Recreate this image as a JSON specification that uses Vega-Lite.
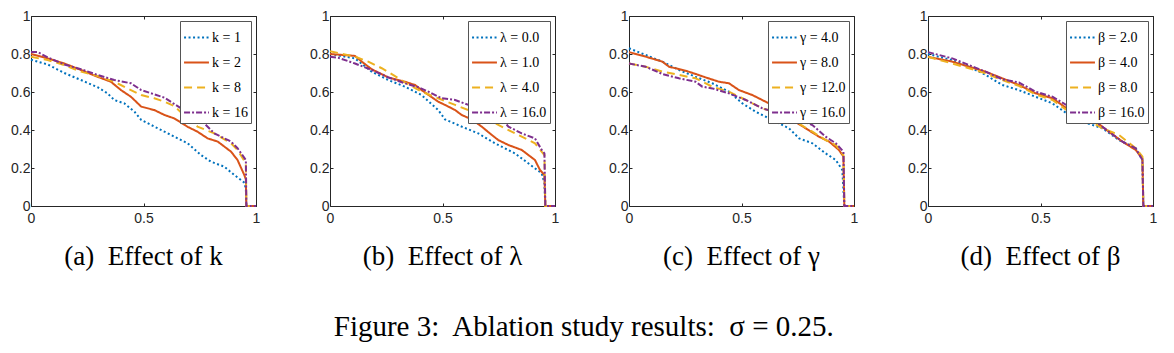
{
  "$schema": "https://vega.github.io/schema/vega-lite/v6.json",
  "autosize": {"type": "pad"},
  "padding": {"left": 10, "top": 8, "right": 5, "bottom": 5},
  "background": "white",
  "config": {
    "view": {"stroke": "#262626", "strokeWidth": 1},
    "axis": {"grid": false, "domain": false, "tickSize": -3, "tickColor": "#262626", "labelColor": "#262626", "labelFont": "Liberation Sans, Arial, Helvetica, sans-serif", "labelFontSize": 14, "title": null, "labelFlush": false, "labelOverlap": false, "format": "~g"},
    "legend": {"orient": "top-right", "offset": 5, "title": null, "strokeColor": "#555555", "fillColor": "white", "padding": 3, "rowPadding": 4, "symbolType": "stroke", "symbolStrokeWidth": 2, "symbolSize": 620, "labelFont": "Liberation Serif, Times New Roman, Times, serif", "labelFontSize": 14, "labelOffset": 2, "labelColor": "black"},
    "title": {"font": "Liberation Serif, Times New Roman, Times, serif", "fontWeight": "normal", "color": "black"}
  },
  "title": {"text": "Figure 3:\u00a0 Ablation study results:\u00a0 σ = 0.25.", "orient": "bottom", "anchor": "middle", "offset": 43, "fontSize": 29, "font": "Liberation Serif, Times New Roman, Times, serif"},
  "spacing": 74,
  "bounds": "flush",
  "resolve": {"scale": {"color": "independent", "strokeDash": "independent"}, "legend": {"color": "independent", "strokeDash": "independent"}},
  "datasets": {
    "a": [
      {"s":"k = 1","x":0,"y":0.77},{"s":"k = 1","x":0.074,"y":0.745},{"s":"k = 1","x":0.148,"y":0.70},{"s":"k = 1","x":0.222,"y":0.663},{"s":"k = 1","x":0.296,"y":0.625},{"s":"k = 1","x":0.34,"y":0.593},{"s":"k = 1","x":0.37,"y":0.558},{"s":"k = 1","x":0.415,"y":0.54},{"s":"k = 1","x":0.46,"y":0.496},{"s":"k = 1","x":0.49,"y":0.453},{"s":"k = 1","x":0.548,"y":0.418},{"s":"k = 1","x":0.622,"y":0.374},{"s":"k = 1","x":0.696,"y":0.33},{"s":"k = 1","x":0.756,"y":0.268},{"s":"k = 1","x":0.8,"y":0.233},{"s":"k = 1","x":0.859,"y":0.207},{"s":"k = 1","x":0.904,"y":0.163},{"s":"k = 1","x":0.948,"y":0.123},{"s":"k = 1","x":0.955,"y":0.09},{"s":"k = 1","x":0.957,"y":0},{"s":"k = 1","x":1,"y":0},
      {"s":"k = 2","x":0,"y":0.80},{"s":"k = 2","x":0.074,"y":0.777},{"s":"k = 2","x":0.148,"y":0.75},{"s":"k = 2","x":0.222,"y":0.716},{"s":"k = 2","x":0.296,"y":0.68},{"s":"k = 2","x":0.355,"y":0.654},{"s":"k = 2","x":0.4,"y":0.61},{"s":"k = 2","x":0.444,"y":0.575},{"s":"k = 2","x":0.49,"y":0.523},{"s":"k = 2","x":0.548,"y":0.505},{"s":"k = 2","x":0.593,"y":0.479},{"s":"k = 2","x":0.637,"y":0.461},{"s":"k = 2","x":0.696,"y":0.417},{"s":"k = 2","x":0.74,"y":0.391},{"s":"k = 2","x":0.785,"y":0.356},{"s":"k = 2","x":0.83,"y":0.339},{"s":"k = 2","x":0.889,"y":0.286},{"s":"k = 2","x":0.918,"y":0.242},{"s":"k = 2","x":0.948,"y":0.163},{"s":"k = 2","x":0.955,"y":0.14},{"s":"k = 2","x":0.957,"y":0},{"s":"k = 2","x":1,"y":0},
      {"s":"k = 8","x":0,"y":0.785},{"s":"k = 8","x":0.074,"y":0.768},{"s":"k = 8","x":0.148,"y":0.742},{"s":"k = 8","x":0.222,"y":0.707},{"s":"k = 8","x":0.296,"y":0.684},{"s":"k = 8","x":0.37,"y":0.654},{"s":"k = 8","x":0.444,"y":0.61},{"s":"k = 8","x":0.49,"y":0.584},{"s":"k = 8","x":0.548,"y":0.567},{"s":"k = 8","x":0.593,"y":0.549},{"s":"k = 8","x":0.637,"y":0.526},{"s":"k = 8","x":0.696,"y":0.461},{"s":"k = 8","x":0.74,"y":0.418},{"s":"k = 8","x":0.815,"y":0.382},{"s":"k = 8","x":0.889,"y":0.33},{"s":"k = 8","x":0.918,"y":0.295},{"s":"k = 8","x":0.955,"y":0.225},{"s":"k = 8","x":0.957,"y":0},{"s":"k = 8","x":1,"y":0},
      {"s":"k = 16","x":0,"y":0.81},{"s":"k = 16","x":0.03,"y":0.81},{"s":"k = 16","x":0.074,"y":0.782},{"s":"k = 16","x":0.148,"y":0.745},{"s":"k = 16","x":0.222,"y":0.72},{"s":"k = 16","x":0.296,"y":0.69},{"s":"k = 16","x":0.37,"y":0.663},{"s":"k = 16","x":0.444,"y":0.646},{"s":"k = 16","x":0.49,"y":0.61},{"s":"k = 16","x":0.548,"y":0.588},{"s":"k = 16","x":0.593,"y":0.57},{"s":"k = 16","x":0.667,"y":0.514},{"s":"k = 16","x":0.711,"y":0.496},{"s":"k = 16","x":0.77,"y":0.435},{"s":"k = 16","x":0.815,"y":0.382},{"s":"k = 16","x":0.889,"y":0.339},{"s":"k = 16","x":0.918,"y":0.304},{"s":"k = 16","x":0.955,"y":0.242},{"s":"k = 16","x":0.957,"y":0},{"s":"k = 16","x":1,"y":0}
    ],
    "b": [
      {"s":"λ = 0.0","x":0,"y":0.80},{"s":"λ = 0.0","x":0.111,"y":0.777},{"s":"λ = 0.0","x":0.185,"y":0.707},{"s":"λ = 0.0","x":0.259,"y":0.663},{"s":"λ = 0.0","x":0.333,"y":0.628},{"s":"λ = 0.0","x":0.407,"y":0.584},{"s":"λ = 0.0","x":0.481,"y":0.505},{"s":"λ = 0.0","x":0.511,"y":0.456},{"s":"λ = 0.0","x":0.585,"y":0.418},{"s":"λ = 0.0","x":0.659,"y":0.382},{"s":"λ = 0.0","x":0.733,"y":0.33},{"s":"λ = 0.0","x":0.822,"y":0.277},{"s":"λ = 0.0","x":0.881,"y":0.225},{"s":"λ = 0.0","x":0.941,"y":0.172},{"s":"λ = 0.0","x":0.953,"y":0.12},{"s":"λ = 0.0","x":0.957,"y":0},{"s":"λ = 0.0","x":1,"y":0},
      {"s":"λ = 1.0","x":0,"y":0.80},{"s":"λ = 1.0","x":0.111,"y":0.79},{"s":"λ = 1.0","x":0.141,"y":0.76},{"s":"λ = 1.0","x":0.185,"y":0.72},{"s":"λ = 1.0","x":0.259,"y":0.677},{"s":"λ = 1.0","x":0.333,"y":0.654},{"s":"λ = 1.0","x":0.378,"y":0.637},{"s":"λ = 1.0","x":0.407,"y":0.61},{"s":"λ = 1.0","x":0.481,"y":0.549},{"s":"λ = 1.0","x":0.511,"y":0.532},{"s":"λ = 1.0","x":0.556,"y":0.505},{"s":"λ = 1.0","x":0.585,"y":0.479},{"s":"λ = 1.0","x":0.63,"y":0.456},{"s":"λ = 1.0","x":0.674,"y":0.418},{"s":"λ = 1.0","x":0.719,"y":0.374},{"s":"λ = 1.0","x":0.748,"y":0.347},{"s":"λ = 1.0","x":0.793,"y":0.321},{"s":"λ = 1.0","x":0.852,"y":0.295},{"s":"λ = 1.0","x":0.911,"y":0.242},{"s":"λ = 1.0","x":0.933,"y":0.19},{"s":"λ = 1.0","x":0.953,"y":0.163},{"s":"λ = 1.0","x":0.957,"y":0},{"s":"λ = 1.0","x":1,"y":0},
      {"s":"λ = 4.0","x":0,"y":0.815},{"s":"λ = 4.0","x":0.111,"y":0.786},{"s":"λ = 4.0","x":0.17,"y":0.76},{"s":"λ = 4.0","x":0.23,"y":0.725},{"s":"λ = 4.0","x":0.289,"y":0.684},{"s":"λ = 4.0","x":0.333,"y":0.65},{"s":"λ = 4.0","x":0.407,"y":0.602},{"s":"λ = 4.0","x":0.481,"y":0.567},{"s":"λ = 4.0","x":0.556,"y":0.532},{"s":"λ = 4.0","x":0.615,"y":0.505},{"s":"λ = 4.0","x":0.659,"y":0.479},{"s":"λ = 4.0","x":0.704,"y":0.453},{"s":"λ = 4.0","x":0.778,"y":0.409},{"s":"λ = 4.0","x":0.852,"y":0.365},{"s":"λ = 4.0","x":0.911,"y":0.33},{"s":"λ = 4.0","x":0.953,"y":0.268},{"s":"λ = 4.0","x":0.957,"y":0},{"s":"λ = 4.0","x":1,"y":0},
      {"s":"λ = 16.0","x":0,"y":0.785},{"s":"λ = 16.0","x":0.037,"y":0.78},{"s":"λ = 16.0","x":0.111,"y":0.75},{"s":"λ = 16.0","x":0.185,"y":0.716},{"s":"λ = 16.0","x":0.259,"y":0.677},{"s":"λ = 16.0","x":0.333,"y":0.646},{"s":"λ = 16.0","x":0.393,"y":0.625},{"s":"λ = 16.0","x":0.437,"y":0.602},{"s":"λ = 16.0","x":0.496,"y":0.567},{"s":"λ = 16.0","x":0.556,"y":0.558},{"s":"λ = 16.0","x":0.615,"y":0.532},{"s":"λ = 16.0","x":0.689,"y":0.505},{"s":"λ = 16.0","x":0.733,"y":0.496},{"s":"λ = 16.0","x":0.793,"y":0.418},{"s":"λ = 16.0","x":0.852,"y":0.382},{"s":"λ = 16.0","x":0.911,"y":0.356},{"s":"λ = 16.0","x":0.941,"y":0.295},{"s":"λ = 16.0","x":0.953,"y":0.277},{"s":"λ = 16.0","x":0.957,"y":0},{"s":"λ = 16.0","x":1,"y":0}
    ],
    "c": [
      {"s":"γ = 4.0","x":0,"y":0.83},{"s":"γ = 4.0","x":0.074,"y":0.795},{"s":"γ = 4.0","x":0.148,"y":0.76},{"s":"γ = 4.0","x":0.222,"y":0.716},{"s":"γ = 4.0","x":0.296,"y":0.68},{"s":"γ = 4.0","x":0.37,"y":0.646},{"s":"γ = 4.0","x":0.444,"y":0.602},{"s":"γ = 4.0","x":0.504,"y":0.54},{"s":"γ = 4.0","x":0.563,"y":0.496},{"s":"γ = 4.0","x":0.637,"y":0.453},{"s":"γ = 4.0","x":0.711,"y":0.409},{"s":"γ = 4.0","x":0.756,"y":0.356},{"s":"γ = 4.0","x":0.815,"y":0.33},{"s":"γ = 4.0","x":0.874,"y":0.277},{"s":"γ = 4.0","x":0.919,"y":0.242},{"s":"γ = 4.0","x":0.948,"y":0.19},{"s":"γ = 4.0","x":0.957,"y":0},{"s":"γ = 4.0","x":1,"y":0},
      {"s":"γ = 8.0","x":0,"y":0.81},{"s":"γ = 8.0","x":0.074,"y":0.786},{"s":"γ = 8.0","x":0.148,"y":0.76},{"s":"γ = 8.0","x":0.178,"y":0.733},{"s":"γ = 8.0","x":0.252,"y":0.712},{"s":"γ = 8.0","x":0.296,"y":0.695},{"s":"γ = 8.0","x":0.34,"y":0.677},{"s":"γ = 8.0","x":0.4,"y":0.654},{"s":"γ = 8.0","x":0.444,"y":0.646},{"s":"γ = 8.0","x":0.489,"y":0.61},{"s":"γ = 8.0","x":0.548,"y":0.584},{"s":"γ = 8.0","x":0.607,"y":0.549},{"s":"γ = 8.0","x":0.667,"y":0.514},{"s":"γ = 8.0","x":0.726,"y":0.453},{"s":"γ = 8.0","x":0.785,"y":0.409},{"s":"γ = 8.0","x":0.844,"y":0.365},{"s":"γ = 8.0","x":0.889,"y":0.339},{"s":"γ = 8.0","x":0.933,"y":0.295},{"s":"γ = 8.0","x":0.953,"y":0.26},{"s":"γ = 8.0","x":0.957,"y":0},{"s":"γ = 8.0","x":1,"y":0},
      {"s":"γ = 12.0","x":0,"y":0.75},{"s":"γ = 12.0","x":0.074,"y":0.733},{"s":"γ = 12.0","x":0.148,"y":0.707},{"s":"γ = 12.0","x":0.222,"y":0.69},{"s":"γ = 12.0","x":0.296,"y":0.672},{"s":"γ = 12.0","x":0.37,"y":0.628},{"s":"γ = 12.0","x":0.444,"y":0.602},{"s":"γ = 12.0","x":0.519,"y":0.558},{"s":"γ = 12.0","x":0.593,"y":0.514},{"s":"γ = 12.0","x":0.667,"y":0.488},{"s":"γ = 12.0","x":0.741,"y":0.444},{"s":"γ = 12.0","x":0.815,"y":0.391},{"s":"γ = 12.0","x":0.874,"y":0.347},{"s":"γ = 12.0","x":0.919,"y":0.321},{"s":"γ = 12.0","x":0.953,"y":0.268},{"s":"γ = 12.0","x":0.957,"y":0},{"s":"γ = 12.0","x":1,"y":0},
      {"s":"γ = 16.0","x":0,"y":0.75},{"s":"γ = 16.0","x":0.074,"y":0.733},{"s":"γ = 16.0","x":0.148,"y":0.695},{"s":"γ = 16.0","x":0.222,"y":0.672},{"s":"γ = 16.0","x":0.296,"y":0.654},{"s":"γ = 16.0","x":0.326,"y":0.628},{"s":"γ = 16.0","x":0.37,"y":0.619},{"s":"γ = 16.0","x":0.444,"y":0.593},{"s":"γ = 16.0","x":0.519,"y":0.558},{"s":"γ = 16.0","x":0.593,"y":0.514},{"s":"γ = 16.0","x":0.667,"y":0.488},{"s":"γ = 16.0","x":0.741,"y":0.461},{"s":"γ = 16.0","x":0.815,"y":0.426},{"s":"γ = 16.0","x":0.874,"y":0.365},{"s":"γ = 16.0","x":0.919,"y":0.33},{"s":"γ = 16.0","x":0.953,"y":0.286},{"s":"γ = 16.0","x":0.957,"y":0},{"s":"γ = 16.0","x":1,"y":0}
    ],
    "d": [
      {"s":"β = 2.0","x":0,"y":0.80},{"s":"β = 2.0","x":0.108,"y":0.768},{"s":"β = 2.0","x":0.182,"y":0.733},{"s":"β = 2.0","x":0.256,"y":0.69},{"s":"β = 2.0","x":0.33,"y":0.637},{"s":"β = 2.0","x":0.404,"y":0.61},{"s":"β = 2.0","x":0.478,"y":0.575},{"s":"β = 2.0","x":0.553,"y":0.54},{"s":"β = 2.0","x":0.627,"y":0.479},{"s":"β = 2.0","x":0.686,"y":0.444},{"s":"β = 2.0","x":0.775,"y":0.409},{"s":"β = 2.0","x":0.849,"y":0.347},{"s":"β = 2.0","x":0.923,"y":0.304},{"s":"β = 2.0","x":0.953,"y":0.242},{"s":"β = 2.0","x":0.957,"y":0},{"s":"β = 2.0","x":1,"y":0},
      {"s":"β = 4.0","x":0,"y":0.785},{"s":"β = 4.0","x":0.108,"y":0.76},{"s":"β = 4.0","x":0.182,"y":0.733},{"s":"β = 4.0","x":0.256,"y":0.707},{"s":"β = 4.0","x":0.33,"y":0.672},{"s":"β = 4.0","x":0.404,"y":0.637},{"s":"β = 4.0","x":0.478,"y":0.593},{"s":"β = 4.0","x":0.553,"y":0.567},{"s":"β = 4.0","x":0.627,"y":0.505},{"s":"β = 4.0","x":0.686,"y":0.488},{"s":"β = 4.0","x":0.745,"y":0.444},{"s":"β = 4.0","x":0.804,"y":0.391},{"s":"β = 4.0","x":0.864,"y":0.339},{"s":"β = 4.0","x":0.923,"y":0.295},{"s":"β = 4.0","x":0.953,"y":0.25},{"s":"β = 4.0","x":0.957,"y":0},{"s":"β = 4.0","x":1,"y":0},
      {"s":"β = 8.0","x":0,"y":0.785},{"s":"β = 8.0","x":0.108,"y":0.75},{"s":"β = 8.0","x":0.182,"y":0.725},{"s":"β = 8.0","x":0.256,"y":0.698},{"s":"β = 8.0","x":0.33,"y":0.663},{"s":"β = 8.0","x":0.404,"y":0.632},{"s":"β = 8.0","x":0.478,"y":0.588},{"s":"β = 8.0","x":0.553,"y":0.558},{"s":"β = 8.0","x":0.627,"y":0.496},{"s":"β = 8.0","x":0.701,"y":0.461},{"s":"β = 8.0","x":0.775,"y":0.409},{"s":"β = 8.0","x":0.849,"y":0.374},{"s":"β = 8.0","x":0.923,"y":0.304},{"s":"β = 8.0","x":0.953,"y":0.26},{"s":"β = 8.0","x":0.957,"y":0},{"s":"β = 8.0","x":1,"y":0},
      {"s":"β = 16.0","x":0,"y":0.81},{"s":"β = 16.0","x":0.108,"y":0.777},{"s":"β = 16.0","x":0.182,"y":0.742},{"s":"β = 16.0","x":0.256,"y":0.707},{"s":"β = 16.0","x":0.33,"y":0.667},{"s":"β = 16.0","x":0.404,"y":0.65},{"s":"β = 16.0","x":0.478,"y":0.602},{"s":"β = 16.0","x":0.553,"y":0.575},{"s":"β = 16.0","x":0.627,"y":0.523},{"s":"β = 16.0","x":0.686,"y":0.514},{"s":"β = 16.0","x":0.745,"y":0.444},{"s":"β = 16.0","x":0.804,"y":0.391},{"s":"β = 16.0","x":0.864,"y":0.339},{"s":"β = 16.0","x":0.923,"y":0.304},{"s":"β = 16.0","x":0.953,"y":0.242},{"s":"β = 16.0","x":0.957,"y":0},{"s":"β = 16.0","x":1,"y":0}
    ]
  },
  "hconcat": [
    {
      "width": 225, "height": 190,
      "title": {"text": "(a)\u00a0 Effect of k", "orient": "bottom", "anchor": "middle", "offset": 18, "fontSize": 27, "font": "Liberation Serif, Times New Roman, Times, serif"},
      "data": {"name": "a"},
      "layer": [
        {"mark": {"type": "line", "strokeWidth": 2},
         "encoding": {
           "x": {"field": "x", "type": "quantitative", "scale": {"domain": [0, 1]}, "axis": {"values": [0, 0.5, 1], "labelPadding": 8.5}},
           "y": {"field": "y", "type": "quantitative", "scale": {"domain": [0, 1]}, "axis": {"values": [0, 0.2, 0.4, 0.6, 0.8, 1], "labelPadding": 4}},
           "color": {"field": "s", "type": "nominal", "sort": null, "scale": {"domain": ["k = 1", "k = 2", "k = 8", "k = 16"], "range": ["#0072BD", "#D95319", "#EDB120", "#7E2F8E"]}},
           "strokeDash": {"field": "s", "type": "nominal", "sort": null, "scale": {"domain": ["k = 1", "k = 2", "k = 8", "k = 16"], "range": [[2, 2.5], [1, 0], [8, 5], [6, 2, 2, 2]]}}
         }},
        {"mark": {"type": "point", "opacity": 0},
         "encoding": {
           "x": {"field": "x", "type": "quantitative", "axis": {"orient": "top", "labels": false, "values": [0, 0.5, 1]}},
           "y": {"field": "y", "type": "quantitative", "axis": {"orient": "right", "labels": false, "values": [0, 0.2, 0.4, 0.6, 0.8, 1]}}
         }}
      ],
      "resolve": {"axis": {"x": "independent", "y": "independent"}}
    },
    {
      "width": 225, "height": 190,
      "title": {"text": "(b)\u00a0 Effect of λ", "orient": "bottom", "anchor": "middle", "offset": 18, "fontSize": 27, "font": "Liberation Serif, Times New Roman, Times, serif"},
      "data": {"name": "b"},
      "layer": [
        {"mark": {"type": "line", "strokeWidth": 2},
         "encoding": {
           "x": {"field": "x", "type": "quantitative", "scale": {"domain": [0, 1]}, "axis": {"values": [0, 0.5, 1], "labelPadding": 8.5}},
           "y": {"field": "y", "type": "quantitative", "scale": {"domain": [0, 1]}, "axis": {"values": [0, 0.2, 0.4, 0.6, 0.8, 1], "labelPadding": 4}},
           "color": {"field": "s", "type": "nominal", "sort": null, "scale": {"domain": ["λ = 0.0", "λ = 1.0", "λ = 4.0", "λ = 16.0"], "range": ["#0072BD", "#D95319", "#EDB120", "#7E2F8E"]}},
           "strokeDash": {"field": "s", "type": "nominal", "sort": null, "scale": {"domain": ["λ = 0.0", "λ = 1.0", "λ = 4.0", "λ = 16.0"], "range": [[2, 2.5], [1, 0], [8, 5], [6, 2, 2, 2]]}}
         }},
        {"mark": {"type": "point", "opacity": 0},
         "encoding": {
           "x": {"field": "x", "type": "quantitative", "axis": {"orient": "top", "labels": false, "values": [0, 0.5, 1]}},
           "y": {"field": "y", "type": "quantitative", "axis": {"orient": "right", "labels": false, "values": [0, 0.2, 0.4, 0.6, 0.8, 1]}}
         }}
      ],
      "resolve": {"axis": {"x": "independent", "y": "independent"}}
    },
    {
      "width": 225, "height": 190,
      "title": {"text": "(c)\u00a0 Effect of γ", "orient": "bottom", "anchor": "middle", "offset": 18, "fontSize": 27, "font": "Liberation Serif, Times New Roman, Times, serif"},
      "data": {"name": "c"},
      "layer": [
        {"mark": {"type": "line", "strokeWidth": 2},
         "encoding": {
           "x": {"field": "x", "type": "quantitative", "scale": {"domain": [0, 1]}, "axis": {"values": [0, 0.5, 1], "labelPadding": 8.5}},
           "y": {"field": "y", "type": "quantitative", "scale": {"domain": [0, 1]}, "axis": {"values": [0, 0.2, 0.4, 0.6, 0.8, 1], "labelPadding": 4}},
           "color": {"field": "s", "type": "nominal", "sort": null, "scale": {"domain": ["γ = 4.0", "γ = 8.0", "γ = 12.0", "γ = 16.0"], "range": ["#0072BD", "#D95319", "#EDB120", "#7E2F8E"]}},
           "strokeDash": {"field": "s", "type": "nominal", "sort": null, "scale": {"domain": ["γ = 4.0", "γ = 8.0", "γ = 12.0", "γ = 16.0"], "range": [[2, 2.5], [1, 0], [8, 5], [6, 2, 2, 2]]}}
         }},
        {"mark": {"type": "point", "opacity": 0},
         "encoding": {
           "x": {"field": "x", "type": "quantitative", "axis": {"orient": "top", "labels": false, "values": [0, 0.5, 1]}},
           "y": {"field": "y", "type": "quantitative", "axis": {"orient": "right", "labels": false, "values": [0, 0.2, 0.4, 0.6, 0.8, 1]}}
         }}
      ],
      "resolve": {"axis": {"x": "independent", "y": "independent"}}
    },
    {
      "width": 225, "height": 190,
      "title": {"text": "(d)\u00a0 Effect of β", "orient": "bottom", "anchor": "middle", "offset": 18, "fontSize": 27, "font": "Liberation Serif, Times New Roman, Times, serif"},
      "data": {"name": "d"},
      "layer": [
        {"mark": {"type": "line", "strokeWidth": 2},
         "encoding": {
           "x": {"field": "x", "type": "quantitative", "scale": {"domain": [0, 1]}, "axis": {"values": [0, 0.5, 1], "labelPadding": 8.5}},
           "y": {"field": "y", "type": "quantitative", "scale": {"domain": [0, 1]}, "axis": {"values": [0, 0.2, 0.4, 0.6, 0.8, 1], "labelPadding": 4}},
           "color": {"field": "s", "type": "nominal", "sort": null, "scale": {"domain": ["β = 2.0", "β = 4.0", "β = 8.0", "β = 16.0"], "range": ["#0072BD", "#D95319", "#EDB120", "#7E2F8E"]}},
           "strokeDash": {"field": "s", "type": "nominal", "sort": null, "scale": {"domain": ["β = 2.0", "β = 4.0", "β = 8.0", "β = 16.0"], "range": [[2, 2.5], [1, 0], [8, 5], [6, 2, 2, 2]]}}
         }},
        {"mark": {"type": "point", "opacity": 0},
         "encoding": {
           "x": {"field": "x", "type": "quantitative", "axis": {"orient": "top", "labels": false, "values": [0, 0.5, 1]}},
           "y": {"field": "y", "type": "quantitative", "axis": {"orient": "right", "labels": false, "values": [0, 0.2, 0.4, 0.6, 0.8, 1]}}
         }}
      ],
      "resolve": {"axis": {"x": "independent", "y": "independent"}}
    }
  ]
}
